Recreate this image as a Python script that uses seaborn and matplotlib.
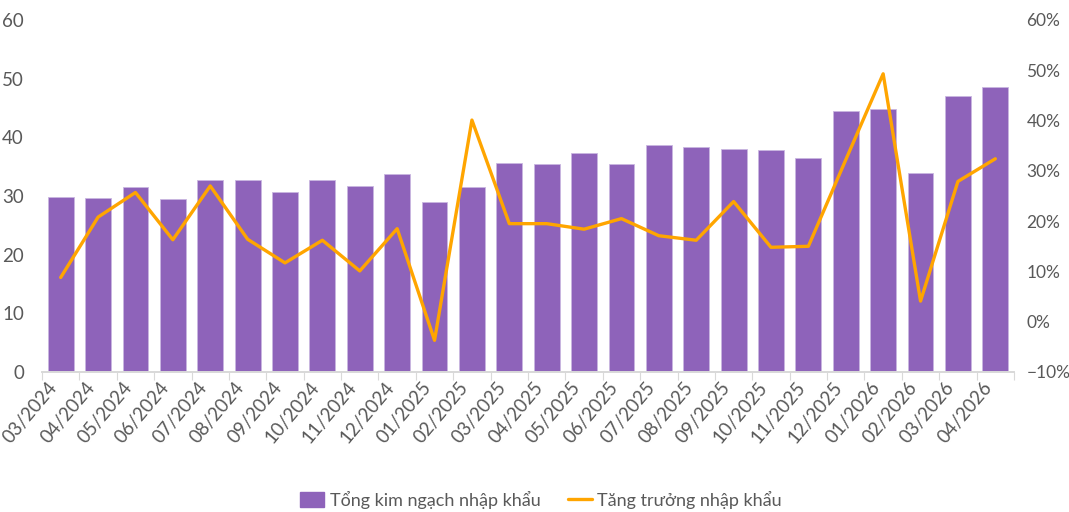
import numpy as np
import pandas as pd
import matplotlib
matplotlib.use("Agg")
import matplotlib.pyplot as plt
from matplotlib.patches import Patch
from matplotlib.lines import Line2D
from matplotlib.ticker import FixedLocator, PercentFormatter
import seaborn as sns

months = ["03/2024", "04/2024", "05/2024", "06/2024", "07/2024", "08/2024", "09/2024",
          "10/2024", "11/2024", "12/2024", "01/2025", "02/2025", "03/2025", "04/2025",
          "05/2025", "06/2025", "07/2025", "08/2025", "09/2025", "10/2025", "11/2025",
          "12/2025", "01/2026", "02/2026", "03/2026", "04/2026"]
import_value = [29.8, 29.7, 31.5, 29.5, 32.8, 32.8, 30.6, 32.8, 31.7, 33.7, 29.0, 31.5, 35.7,
                35.5, 37.4, 35.5, 38.7, 38.3, 38.0, 37.8, 36.4, 44.5, 44.8, 34.0, 47.0, 48.6]
growth_pct = [8.8, 20.8, 25.7, 16.3, 27.0, 16.4, 11.7, 16.2, 10.1, 18.5, -3.7, 40.1, 19.5,
              19.5, 18.4, 20.5, 17.1, 16.2, 23.9, 14.8, 15.0, 32.2, 49.3, 4.1, 27.9, 32.4]
bar_label = "Tổng kim ngạch nhập khẩu"
line_label = "Tăng trưởng nhập khẩu"

BAR = "#8E63BA"
LINE = "#FFA500"
TXT = "#595959"

sns.set_theme(style="white")
plt.rcParams["font.family"] = ["Lato", "DejaVu Sans"]

df = pd.DataFrame({"month": months, "value": import_value, "growth": growth_pct})
df["pos"] = np.arange(len(df))

fig = plt.figure(figsize=(10.69, 5.12), dpi=100)
ax = fig.add_axes([42 / 1069, 1 - 372 / 512, (1014 - 42) / 1069, (372 - 20) / 512])

sns.barplot(data=df, x="month", y="value", color=BAR, width=0.69, saturation=1,
            edgecolor="#C9B6E0", linewidth=0.6, ax=ax)
ax.set_ylim(0, 60)
ax.set_xlim(-0.5, len(df) - 0.5)
ax.set_yticks(range(0, 61, 10))
ax.set_xlabel("")
ax.set_ylabel("")

ax2 = ax.twinx()
sns.lineplot(data=df, x="pos", y="growth", color=LINE, linewidth=2.4, ax=ax2)
ax2.set_ylim(-10, 60)
ax2.set_yticks(range(-10, 61, 10))
ax2.yaxis.set_major_formatter(PercentFormatter(decimals=0))
ax2.set_xlim(-0.5, len(df) - 0.5)
ax2.set_xlabel("")
ax2.set_ylabel("")

for a in (ax, ax2):
    for s in ("top", "left", "right"):
        a.spines[s].set_visible(False)
    a.spines["bottom"].set_color("#D9D9D9")
    a.tick_params(axis="y", length=0, labelsize=13.5, labelcolor=TXT)
    a.grid(False)
ax.tick_params(axis="y", pad=13)
ax2.tick_params(axis="y", pad=9, labelsize=12.5)

ax.set_xticks(range(len(df)))
ax.set_xticklabels(months, rotation=50, ha="right", rotation_mode="default",
                   fontsize=13.5, color=TXT)
ax.tick_params(axis="x", which="major", length=0, pad=5)
ax.xaxis.set_minor_locator(FixedLocator(np.arange(-0.5, len(df), 1.0)))
ax.tick_params(axis="x", which="minor", length=6, color="#D9D9D9", width=0.8, bottom=True)

handles = [Patch(facecolor=BAR, edgecolor=BAR, label=bar_label),
           Line2D([0], [0], color=LINE, linewidth=2.4, label=line_label)]
fig.legend(handles=handles, loc="center", bbox_to_anchor=(0.506, 1 - 500 / 512), ncol=2,
           frameon=False, fontsize=13, labelcolor=TXT, handlelength=1.35, handletextpad=0.3,
           columnspacing=1.5, handleheight=0.9)

fig.savefig("out.png", dpi=100)
